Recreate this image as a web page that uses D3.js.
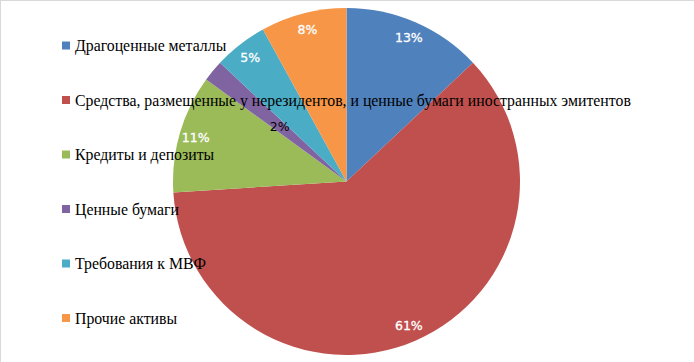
<!DOCTYPE html>
<html>
<head>
<meta charset="utf-8">
<script src="https://cdn.jsdelivr.net/npm/d3@7"></script>
<style>
  body { margin: 0; background: #fff; }
  svg { display: block; }
</style>
</head>
<body>
<div id="chart"></div>
<script>
const categories = ['Драгоценные металлы',
                    'Средства, размещенные у нерезидентов, и ценные бумаги иностранных эмитентов',
                    'Кредиты и депозиты', 'Ценные бумаги', 'Требования к МВФ', 'Прочие активы'];
const shares = [13, 61, 11, 2, 5, 8];
const colors = ['#4f81bd', '#c0504d', '#9bbb59', '#8064a2', '#4bacc6', '#f79646'];

const width = 694, height = 362;
const cx = 346.5, cy = 181.5, radius = 173.5;

let svg = d3.select("#chart").append("svg")
    .attr("width", width)
    .attr("height", height)

// chart border (only top and left visible in the frame)
svg.append("rect")
    .attr("x", 0.5).attr("y", 0.5)
    .attr("width", width + 10).attr("height", height + 10)
    .attr("fill", "none")
    .attr("stroke", "#d9d9d9")

const pie = d3.pie().sort(null).value(d => d)
const slices = pie(shares)

const arc = d3.arc().innerRadius(0).outerRadius(radius)
const labelArc = d3.arc().innerRadius(157).outerRadius(157)
const smallArc = d3.arc().innerRadius(radius * 0.5).outerRadius(radius * 0.5)

let g = svg.append("g").attr("transform", `translate(${cx},${cy})`)

g.selectAll("path")
    .data(slices)
    .enter().append("path")
    .attr("d", arc)
    .attr("fill", (d, i) => colors[i])

g.selectAll("text")
    .data(slices)
    .enter().append("text")
    .attr("transform", d => `translate(${(d.data < 3 ? smallArc : labelArc).centroid(d)})`)
    .attr("text-anchor", "middle")
    .attr("dy", "0.35em")
    .attr("font-family", "'DejaVu Sans', Verdana, sans-serif")
    .attr("font-size", 12.5)
    .attr("fill", d => d.data < 3 ? "#000" : "#fff")
    .attr("stroke", d => d.data < 3 ? "none" : "#fff")
    .attr("stroke-width", 0.3)
    .text(d => d.data + "%")

// legend on top of the pie
const legendY = d3.scalePoint().domain(categories).range([45.5, 318]);

let legend = svg.selectAll("legend")
    .data(categories)
    .enter().append("g")
    .attr("transform", d => `translate(62,${legendY(d)})`)

legend.append("rect")
    .attr("x", 0).attr("y", -4)
    .attr("width", 8).attr("height", 8)
    .attr("fill", (d, i) => colors[i])

legend.append("text")
    .attr("x", 13).attr("y", 5.5)
    .attr("font-family", "'Liberation Serif', 'Times New Roman', serif")
    .attr("font-size", 15.8)
    .attr("fill", "#000")
    .text(d => d)
</script>
</body>
</html>
